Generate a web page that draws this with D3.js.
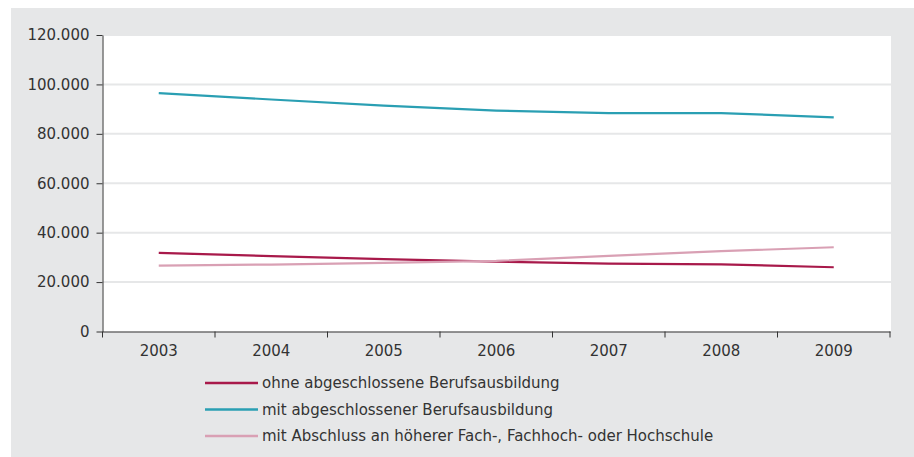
<!DOCTYPE html>
<html>
<head>
<meta charset="utf-8">
<script src="https://cdn.jsdelivr.net/npm/d3@7"></script>
<style>
  body { margin: 0; background: #fff; }
  text { font-family: "DejaVu Sans", sans-serif; fill: #333; }
</style>
</head>
<body>
<svg id="chart" width="914" height="457"></svg>
<script>
"use strict";

var years = ["2003", "2004", "2005", "2006", "2007", "2008", "2009"];
var ohne = [31800, 30500, 29300, 28300, 27500, 27200, 26000];
var mitAusbildung = [96500, 93900, 91400, 89400, 88400, 88400, 86700];
var mitHochschule = [26700, 27100, 27800, 28600, 30600, 32500, 34100];
var seriesNames = [
  "ohne abgeschlossene Berufsausbildung",
  "mit abgeschlossener Berufsausbildung",
  "mit Abschluss an höherer Fach-, Fachhoch- oder Hochschule"
];
var seriesColors = ["#a8194a", "#2a9fb3", "#d9a0b4"];
var yTicks = [0, 20000, 40000, 60000, 80000, 100000, 120000];

var config = { margin: { l: 102.5, t: 35, r: 890, b: 331.5 } };

var svg = d3.select("#chart");

// grey panel
svg.append("rect")
  .attr("x", 11).attr("y", 8)
  .attr("width", 903).attr("height", 449)
  .attr("fill", "#e6e7e8");

// white plot area
svg.append("rect")
  .attr("x", config.margin.l).attr("y", config.margin.t)
  .attr("width", 891 - config.margin.l).attr("height", config.margin.b - config.margin.t)
  .attr("fill", "#fff");

var x = d3.scaleBand().domain(years).range([config.margin.l, config.margin.r]);
var y = d3.scaleLinear().domain([0, 120000]).range([config.margin.b, config.margin.t]);

var fmt = function(d) { return d3.format(",")(d).replace(/,/g, "."); };

// gridlines
svg.append("g").selectAll("line")
  .data(yTicks.filter(function(d) { return d > 0; }))
  .enter().append("line")
  .attr("x1", config.margin.l).attr("x2", 891)
  .attr("y1", function(d) { return y(d); })
  .attr("y2", function(d) { return y(d); })
  .attr("stroke", "#e6e7e8")
  .attr("stroke-width", 2);

// y axis
var yAxis = svg.append("g")
  .attr("transform", "translate(" + config.margin.l + ",0)")
  .call(d3.axisLeft(y).tickValues(yTicks).tickFormat(fmt).tickSize(6).tickSizeOuter(0));
yAxis.select(".domain").attr("stroke", "#333");
yAxis.selectAll(".tick line").attr("stroke", "#333");
yAxis.selectAll("text")
  .attr("x", -13)
  .style("font-size", "15px")
  .style("font-family", "DejaVu Sans")
  .attr("fill", "#333");

// x axis
var xAxis = svg.append("g")
  .attr("transform", "translate(0," + config.margin.b + ")")
  .call(d3.axisBottom(x).tickSize(0).tickSizeOuter(0));
xAxis.select(".domain").attr("stroke", "#333");
xAxis.selectAll("text")
  .attr("y", 14)
  .style("font-size", "15px")
  .style("font-family", "DejaVu Sans")
  .attr("fill", "#333");

// band boundary ticks on x axis
var bounds = years.map(function(d) { return x(d); }).concat([x(years[years.length - 1]) + x.bandwidth()]);
svg.append("g").selectAll("line")
  .data(bounds)
  .enter().append("line")
  .attr("x1", function(d) { return d; })
  .attr("x2", function(d) { return d; })
  .attr("y1", config.margin.b)
  .attr("y2", config.margin.b + 6)
  .attr("stroke", "#333");

// lines
var allSeries = [ohne, mitAusbildung, mitHochschule];
var line = d3.line()
  .x(function(d, i) { return x(years[i]) + x.bandwidth() / 2; })
  .y(function(d) { return y(d); });

svg.append("g").selectAll("path")
  .data(allSeries)
  .enter().append("path")
  .attr("d", line)
  .attr("fill", "none")
  .attr("stroke", function(d, i) { return seriesColors[i]; })
  .attr("stroke-width", 2.2);

// legend
var legend = svg.append("g")
  .attr("transform", "translate(205,383)");
var rows = legend.selectAll("g")
  .data(seriesNames)
  .enter().append("g")
  .attr("transform", function(d, i) { return "translate(0," + (i * 26.5) + ")"; });
rows.append("line")
  .attr("x1", 0).attr("x2", 53)
  .attr("stroke", function(d, i) { return seriesColors[i]; })
  .attr("stroke-width", 2.5);
rows.append("text")
  .attr("x", 57)
  .attr("dy", "0.35em")
  .style("font-size", "15px")
  .text(function(d) { return d; });
</script>
</body>
</html>
